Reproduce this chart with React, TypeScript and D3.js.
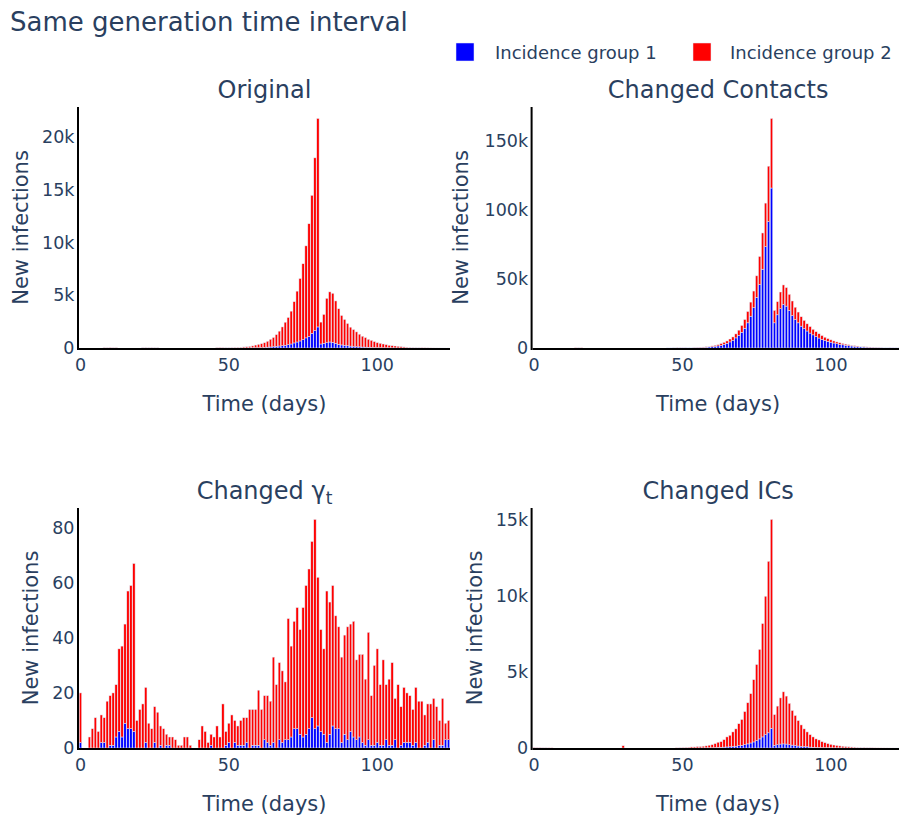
import React from 'react';
import * as d3 from 'd3';

// ---------- data ----------
const DAYS: number[] = d3.range(0, 125);
const X_TICKS = [0, 50, 100];
const SERIES_NAMES = ['Incidence group 1', 'Incidence group 2'];
const SERIES_COLORS = ['#0000ff', '#ff0000'];
const MAIN_TITLE = 'Same generation time interval';
const X_TITLE = 'Time (days)';
const Y_TITLE = 'New infections';

// Original
const origG1 = [
  0,0,0,0,0,0,0,0,0,0,
  0,0,0,0,0,0,0,0,0,0,
  0,0,0,0,0,0,0,0,0,0,
  0,0,0,0,0,0,0,0,0,0,
  0,0,0,0,0,0,0,0,0,0,
  0,0,0,0,0,10,12,15,20,25,
  30,40,60,80,100,130,160,190,220,260,
  320,380,480,570,670,800,960,1100,1400,1660,
  2000,380,450,500,570,540,450,350,290,250,
  210,180,150,130,110,90,80,70,60,50,
  40,35,30,25,20,17,14,12,10,8,
  6,5,4,3,2,1,1,1,0,0,
  0,0,0,0,0,
];
const origG2 = [
  0,0,0,0,0,0,0,0,40,30,
  50,30,40,0,0,0,0,0,0,0,
  0,30,40,30,40,30,30,0,0,0,
  0,0,0,0,0,0,0,0,0,0,
  0,0,0,0,0,0,40,50,40,30,
  30,40,50,60,70,90,108,135,180,255,
  320,370,440,560,730,870,1110,1410,1780,2190,
  2580,3120,3920,4830,5930,7200,8740,10700,13100,16400,
  19800,2080,2740,4220,4760,4660,4020,3380,2800,2460,
  2120,1800,1600,1400,1200,1030,910,760,670,560,
  470,415,350,295,240,203,176,148,120,92,
  74,65,46,37,28,20,15,10,8,5,
  4,3,2,1,1,
];
const origYTicks = [0, 5000, 10000, 15000, 20000];

// Changed Contacts
const contactsG1 = [
  0,0,0,0,0,0,0,0,0,0,
  0,0,0,0,0,0,0,0,0,0,
  0,0,0,0,0,0,0,0,0,0,
  0,0,0,0,0,0,0,0,0,0,
  0,0,0,0,0,40,50,60,70,85,
  100,120,150,180,220,280,370,470,600,800,
  1000,1200,1500,1900,2700,3400,4400,5600,7300,9200,
  11400,14300,18200,23000,29100,36600,45900,57000,73300,91500,
  115700,18200,24000,28500,31500,30300,27200,23500,20600,18200,
  15800,14000,12300,10800,9500,8300,7200,6300,5500,4800,
  4200,3600,3100,2700,2300,2000,1700,1450,1200,1000,
  850,700,600,500,400,320,270,220,180,150,
  120,100,80,60,50,
];
const contactsG2 = [
  0,0,0,0,0,0,0,0,0,0,
  0,0,0,0,150,200,150,0,0,0,
  0,0,0,0,0,0,0,0,0,0,
  0,0,0,0,0,0,0,0,0,0,
  0,0,0,0,0,0,0,150,200,150,
  50,60,70,90,120,140,180,230,300,400,
  500,700,900,1300,1400,1700,2100,2400,2900,3700,
  4900,6300,8200,10200,12100,15600,20300,26200,31500,40000,
  50300,9000,9500,12000,14100,13400,11600,10500,8900,7800,
  6800,6000,5200,4700,4000,3500,3100,2700,2300,2000,
  1700,1500,1300,1100,1000,800,700,550,500,400,
  350,300,200,200,150,130,110,80,70,50,
  40,30,20,20,10,
];
const contactsYTicks = [0, 50000, 100000, 150000];

// Changed gamma_t
const gammaG1 = [
  2,0,0,0,0,0,0,2,2,0,
  1,1,4,6,4,9,7,7,6,0,
  0,0,2,0,0,2,0,1,0,1,
  1,0,0,0,0,0,0,0,0,0,
  0,0,0,0,1,0,0,0,0,1,
  2,0,2,1,1,1,2,0,1,1,
  1,0,3,2,1,2,0,3,2,3,
  3,4,7,7,5,4,5,7,11,7,
  8,6,5,2,5,8,7,7,2,5,
  3,6,4,3,4,2,1,3,1,1,
  2,1,1,3,1,1,3,0,1,2,
  2,2,1,2,0,0,1,2,0,3,
  0,1,1,3,3,
];
const gammaG2 = [
  18,0,0,4,7,11,6,10,9,17,
  18,19,19,30,33,36,50,52,61,10,
  14,16,20,9,7,13,13,7,7,4,
  3,4,3,1,1,4,4,1,0,0,
  3,8,6,2,4,4,8,4,16,5,
  7,12,8,7,9,10,9,14,13,13,
  20,14,16,17,16,31,23,28,26,21,
  44,33,39,44,38,47,54,58,64,76,
  54,37,31,55,48,51,41,37,31,36,
  41,39,42,29,30,32,24,39,18,29,
  34,22,31,20,24,30,15,23,14,20,
  18,17,13,20,17,17,11,14,16,15,
  15,9,17,6,7,
];
const gammaYTicks = [0, 20, 40, 60, 80];

// Changed ICs
const icsG1 = [
  0,0,0,0,0,0,0,0,0,0,
  0,0,0,0,0,0,0,0,0,0,
  0,0,0,0,0,0,0,0,0,0,
  0,0,0,0,0,0,0,0,0,0,
  0,0,0,0,0,0,0,0,0,0,
  0,0,0,0,0,5,7,9,11,14,
  20,30,40,50,60,70,80,100,120,150,
  180,220,270,330,400,490,600,730,880,1000,
  1300,180,220,260,270,260,220,190,160,130,
  110,90,80,60,50,40,35,30,25,20,
  15,12,10,8,6,5,4,3,3,2,
  2,1,1,1,1,0,0,0,0,0,
  0,0,0,0,0,
];
const icsG2 = [
  40,30,30,20,20,10,10,0,0,0,
  0,0,0,0,0,0,0,0,0,0,
  0,0,0,0,0,0,0,0,0,0,
  150,0,0,0,0,0,0,0,0,0,
  0,0,0,0,0,0,0,0,10,20,
  30,40,50,70,70,90,90,110,130,170,
  200,260,340,370,490,660,760,960,1140,1450,
  1700,2180,2710,3250,4100,5010,5900,7470,9120,11300,
  13760,2020,2540,3040,3430,3160,2720,2280,1980,1680,
  1410,1170,980,820,680,560,495,390,325,270,
  225,185,158,130,112,93,75,65,56,47,
  38,28,19,19,10,8,6,5,4,3,
  2,2,1,1,1,
];
const icsYTicks = [0, 5000, 10000, 15000];

// ---------- layout ----------
const W = 899;
const H = 819;
const PANEL_W = 371;
const TEXT = '#2a3f5f';
const FONT = '"DejaVu Sans", Verdana, sans-serif';

type PanelDef = {
  key: string;
  title: React.ReactNode;
  g1: number[];
  g2: number[];
  yTicks: number[];
  x0: number;
  y0: number;
  y1: number;
  yTitleX: number;
};

const panels: PanelDef[] = [
  { key: 'orig', title: 'Original', g1: origG1, g2: origG2, yTicks: origYTicks, x0: 79, y0: 107, y1: 348, yTitleX: 28 },
  { key: 'contacts', title: 'Changed Contacts', g1: contactsG1, g2: contactsG2, yTicks: contactsYTicks, x0: 532.6, y0: 107, y1: 348, yTitleX: 468 },
  {
    key: 'gamma',
    title: (
      <>
        <tspan>Changed γ</tspan>
        <tspan fontSize={17} dy={5}>t</tspan>
      </>
    ),
    g1: gammaG1, g2: gammaG2, yTicks: gammaYTicks, x0: 79, y0: 508, y1: 748, yTitleX: 38,
  },
  { key: 'ics', title: 'Changed ICs', g1: icsG1, g2: icsG2, yTicks: icsYTicks, x0: 532.6, y0: 508, y1: 748, yTitleX: 482 },
];

const fmt = d3.format('~s');

function Panel({ p }: { p: PanelDef }) {
  const x = d3.scaleLinear().domain([-0.5, DAYS.length - 0.5]).range([p.x0, p.x0 + PANEL_W]);
  const rows = DAYS.map((d) => ({ day: d, g1: p.g1[d], g2: p.g2[d] }));
  const maxTotal = d3.max(rows, (r) => r.g1 + r.g2) as number;
  const y = d3.scaleLinear().domain([0, maxTotal * 1.05]).range([p.y1, p.y0]);
  const stacked = d3.stack<any>().keys(['g1', 'g2'])(rows);
  const bw = (x(1) - x(0)) * 0.8;
  const cx = p.x0 + PANEL_W / 2;
  const cy = (p.y0 + p.y1) / 2;
  return (
    <g>
      {stacked.map((layer, li) => (
        <g key={layer.key} fill={SERIES_COLORS[li]} stroke="#E5ECF6" strokeWidth={0.5}>
          {layer.map((seg, i) => {
            const v = seg[1] - seg[0];
            if (v <= 0) return null;
            const yt = y(seg[1]);
            const yb = y(seg[0]);
            return <rect key={i} x={x(rows[i].day) - bw / 2} y={yt} width={bw} height={Math.max(yb - yt, 0)} />;
          })}
        </g>
      ))}
      {/* axis lines */}
      <line x1={p.x0} x2={p.x0 + PANEL_W} y1={p.y1 + 1} y2={p.y1 + 1} stroke="#000" strokeWidth={2} />
      <line x1={p.x0 - 1} x2={p.x0 - 1} y1={p.y0} y2={p.y1 + 2} stroke="#000" strokeWidth={2} />
      {/* x ticks */}
      {X_TICKS.map((t) => (
        <text key={'x' + t} x={x(t)} y={p.y1 + 23} textAnchor="middle" fontSize={17.5} fill={TEXT}>
          {t}
        </text>
      ))}
      {/* y ticks */}
      {p.yTicks.map((t) => (
        <text key={'y' + t} x={p.x0 - 4.5} y={y(t) + 6} textAnchor="end" fontSize={17.5} fill={TEXT}>
          {fmt(t)}
        </text>
      ))}
      {/* titles */}
      <text x={cx} y={p.y0 - 9.5} textAnchor="middle" fontSize={24} fill={TEXT}>
        {p.title}
      </text>
      <text x={cx} y={p.y1 + 63} textAnchor="middle" fontSize={21} fill={TEXT}>
        {X_TITLE}
      </text>
      <text
        transform={`translate(${p.yTitleX},${cy}) rotate(-90)`}
        textAnchor="middle"
        fontSize={21}
        fill={TEXT}
      >
        {Y_TITLE}
      </text>
    </g>
  );
}

export default function App() {
  const legendSymX = [456, 693];
  const legendTextX = [495, 730];
  return (
    <svg
      width={W}
      height={H}
      viewBox={`0 0 ${W} ${H}`}
      style={{ position: 'absolute', left: 0, top: 0, background: '#fff', fontFamily: FONT }}
    >
      <rect x={0} y={0} width={W} height={H} fill="#fff" />
      <text x={10} y={31} fontSize={26} fill={TEXT}>
        {MAIN_TITLE}
      </text>
      {SERIES_NAMES.map((name, i) => (
        <g key={name}>
          <rect x={legendSymX[i]} y={43} width={18} height={18} fill={SERIES_COLORS[i]} stroke="#E5ECF6" strokeWidth={0.5} />
          <text x={legendTextX[i]} y={58.5} fontSize={18} fill={TEXT}>
            {name}
          </text>
        </g>
      ))}
      {panels.map((p) => (
        <Panel key={p.key} p={p} />
      ))}
    </svg>
  );
}
